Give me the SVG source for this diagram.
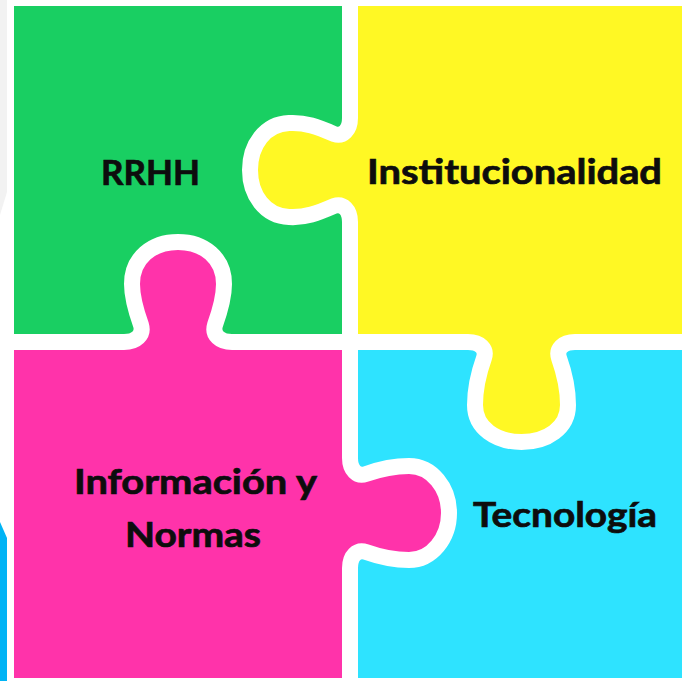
<svg xmlns="http://www.w3.org/2000/svg" width="682" height="681" viewBox="0 0 682 681">
<style>
.lbl{font-family:Lato,"Open Sans","Liberation Sans",sans-serif;font-weight:bold;font-size:35px;fill:#0d0d0d;stroke:#0d0d0d;stroke-width:0.7}
.cut{fill:none;stroke:#ffffff;stroke-width:16;stroke-linejoin:round;stroke-linecap:butt}
</style>
<rect x="0" y="0" width="682" height="681" fill="#ffffff"/>
<polygon points="0,0 7,0 7,192 0,215" fill="#f2f2f2"/>
<polygon points="0,522 7,538 7,681 0,681" fill="#00b4f5"/>
<g id="rrhh">
<rect x="14" y="6" width="336" height="336" fill="#19cf62"/>
<text class="lbl" x="101" y="185" textLength="99" lengthAdjust="spacingAndGlyphs">RRHH</text>
</g>
<g id="institucionalidad">
<rect x="350" y="6" width="332" height="336" fill="#fff824"/>
<path fill="#fff824" d="M350,118 C350,130 343,137 334,134 C318,127 305,122 289,123 C265,124 250,145 250,170 C250,195 265,216 289,217 C305,218 318,213 334,206 C343,203 350,210 350,222 Z"/>
<path fill="#fff824" d="M468,342 C480,342 487,349 484,358 C479,372 475,388 475,405 C475,428 496,442 521.5,442 C547,442 568,428 568,405 C568,388 564,372 559,358 C556,349 563,342 575,342 Z"/>
<text class="lbl" x="367" y="184" textLength="295" lengthAdjust="spacingAndGlyphs">Institucionalidad</text>
</g>
<g id="informacion">
<rect x="14" y="342" width="336" height="336" fill="#ff33aa"/>
<path fill="#ff33aa" d="M124,342 C136,342 144,335 141,325 C136,311 132,298 132,284 C132,258 152,242 178,242 C204,242 224,258 224,284 C224,298 220,311 215,325 C212,335 220,342 232,342 Z"/>
<path fill="#ff33aa" d="M350,458 C350,470 357,477 366,474 C380,469 393,466 409,466 C432,466 449,488 449,513 C449,538 432,560 409,560 C393,560 380,557 366,552 C357,549 350,556 350,568 Z"/>
<text class="lbl" x="74" y="494" textLength="243" lengthAdjust="spacingAndGlyphs">Información y</text>
<text class="lbl" x="125" y="547" textLength="136" lengthAdjust="spacingAndGlyphs">Normas</text>
</g>
<g id="tecnologia">
<rect x="350" y="342" width="332" height="336" fill="#2ee3ff"/>
<path fill="#fff824" d="M468,342 C480,342 487,349 484,358 C479,372 475,388 475,405 C475,428 496,442 521.5,442 C547,442 568,428 568,405 C568,388 564,372 559,358 C556,349 563,342 575,342 Z"/>
<path fill="#ff33aa" d="M350,458 C350,470 357,477 366,474 C380,469 393,466 409,466 C432,466 449,488 449,513 C449,538 432,560 409,560 C393,560 380,557 366,552 C357,549 350,556 350,568 Z"/>
<text class="lbl" x="473" y="527" textLength="184" lengthAdjust="spacingAndGlyphs">Tecnología</text>
</g>
<g id="cuts">
<path class="cut" d="M350,0 V118 C350,130 343,137 334,134 C318,127 305,122 289,123 C265,124 250,145 250,170 C250,195 265,216 289,217 C305,218 318,213 334,206 C343,203 350,210 350,222 V458 C350,470 357,477 366,474 C380,469 393,466 409,466 C432,466 449,488 449,513 C449,538 432,560 409,560 C393,560 380,557 366,552 C357,549 350,556 350,568 V681"/>
<path class="cut" d="M14,342 H124 C136,342 144,335 141,325 C136,311 132,298 132,284 C132,258 152,242 178,242 C204,242 224,258 224,284 C224,298 220,311 215,325 C212,335 220,342 232,342 H468 C480,342 487,349 484,358 C479,372 475,388 475,405 C475,428 496,442 521.5,442 C547,442 568,428 568,405 C568,388 564,372 559,358 C556,349 563,342 575,342 H682"/>
</g>
</svg>
